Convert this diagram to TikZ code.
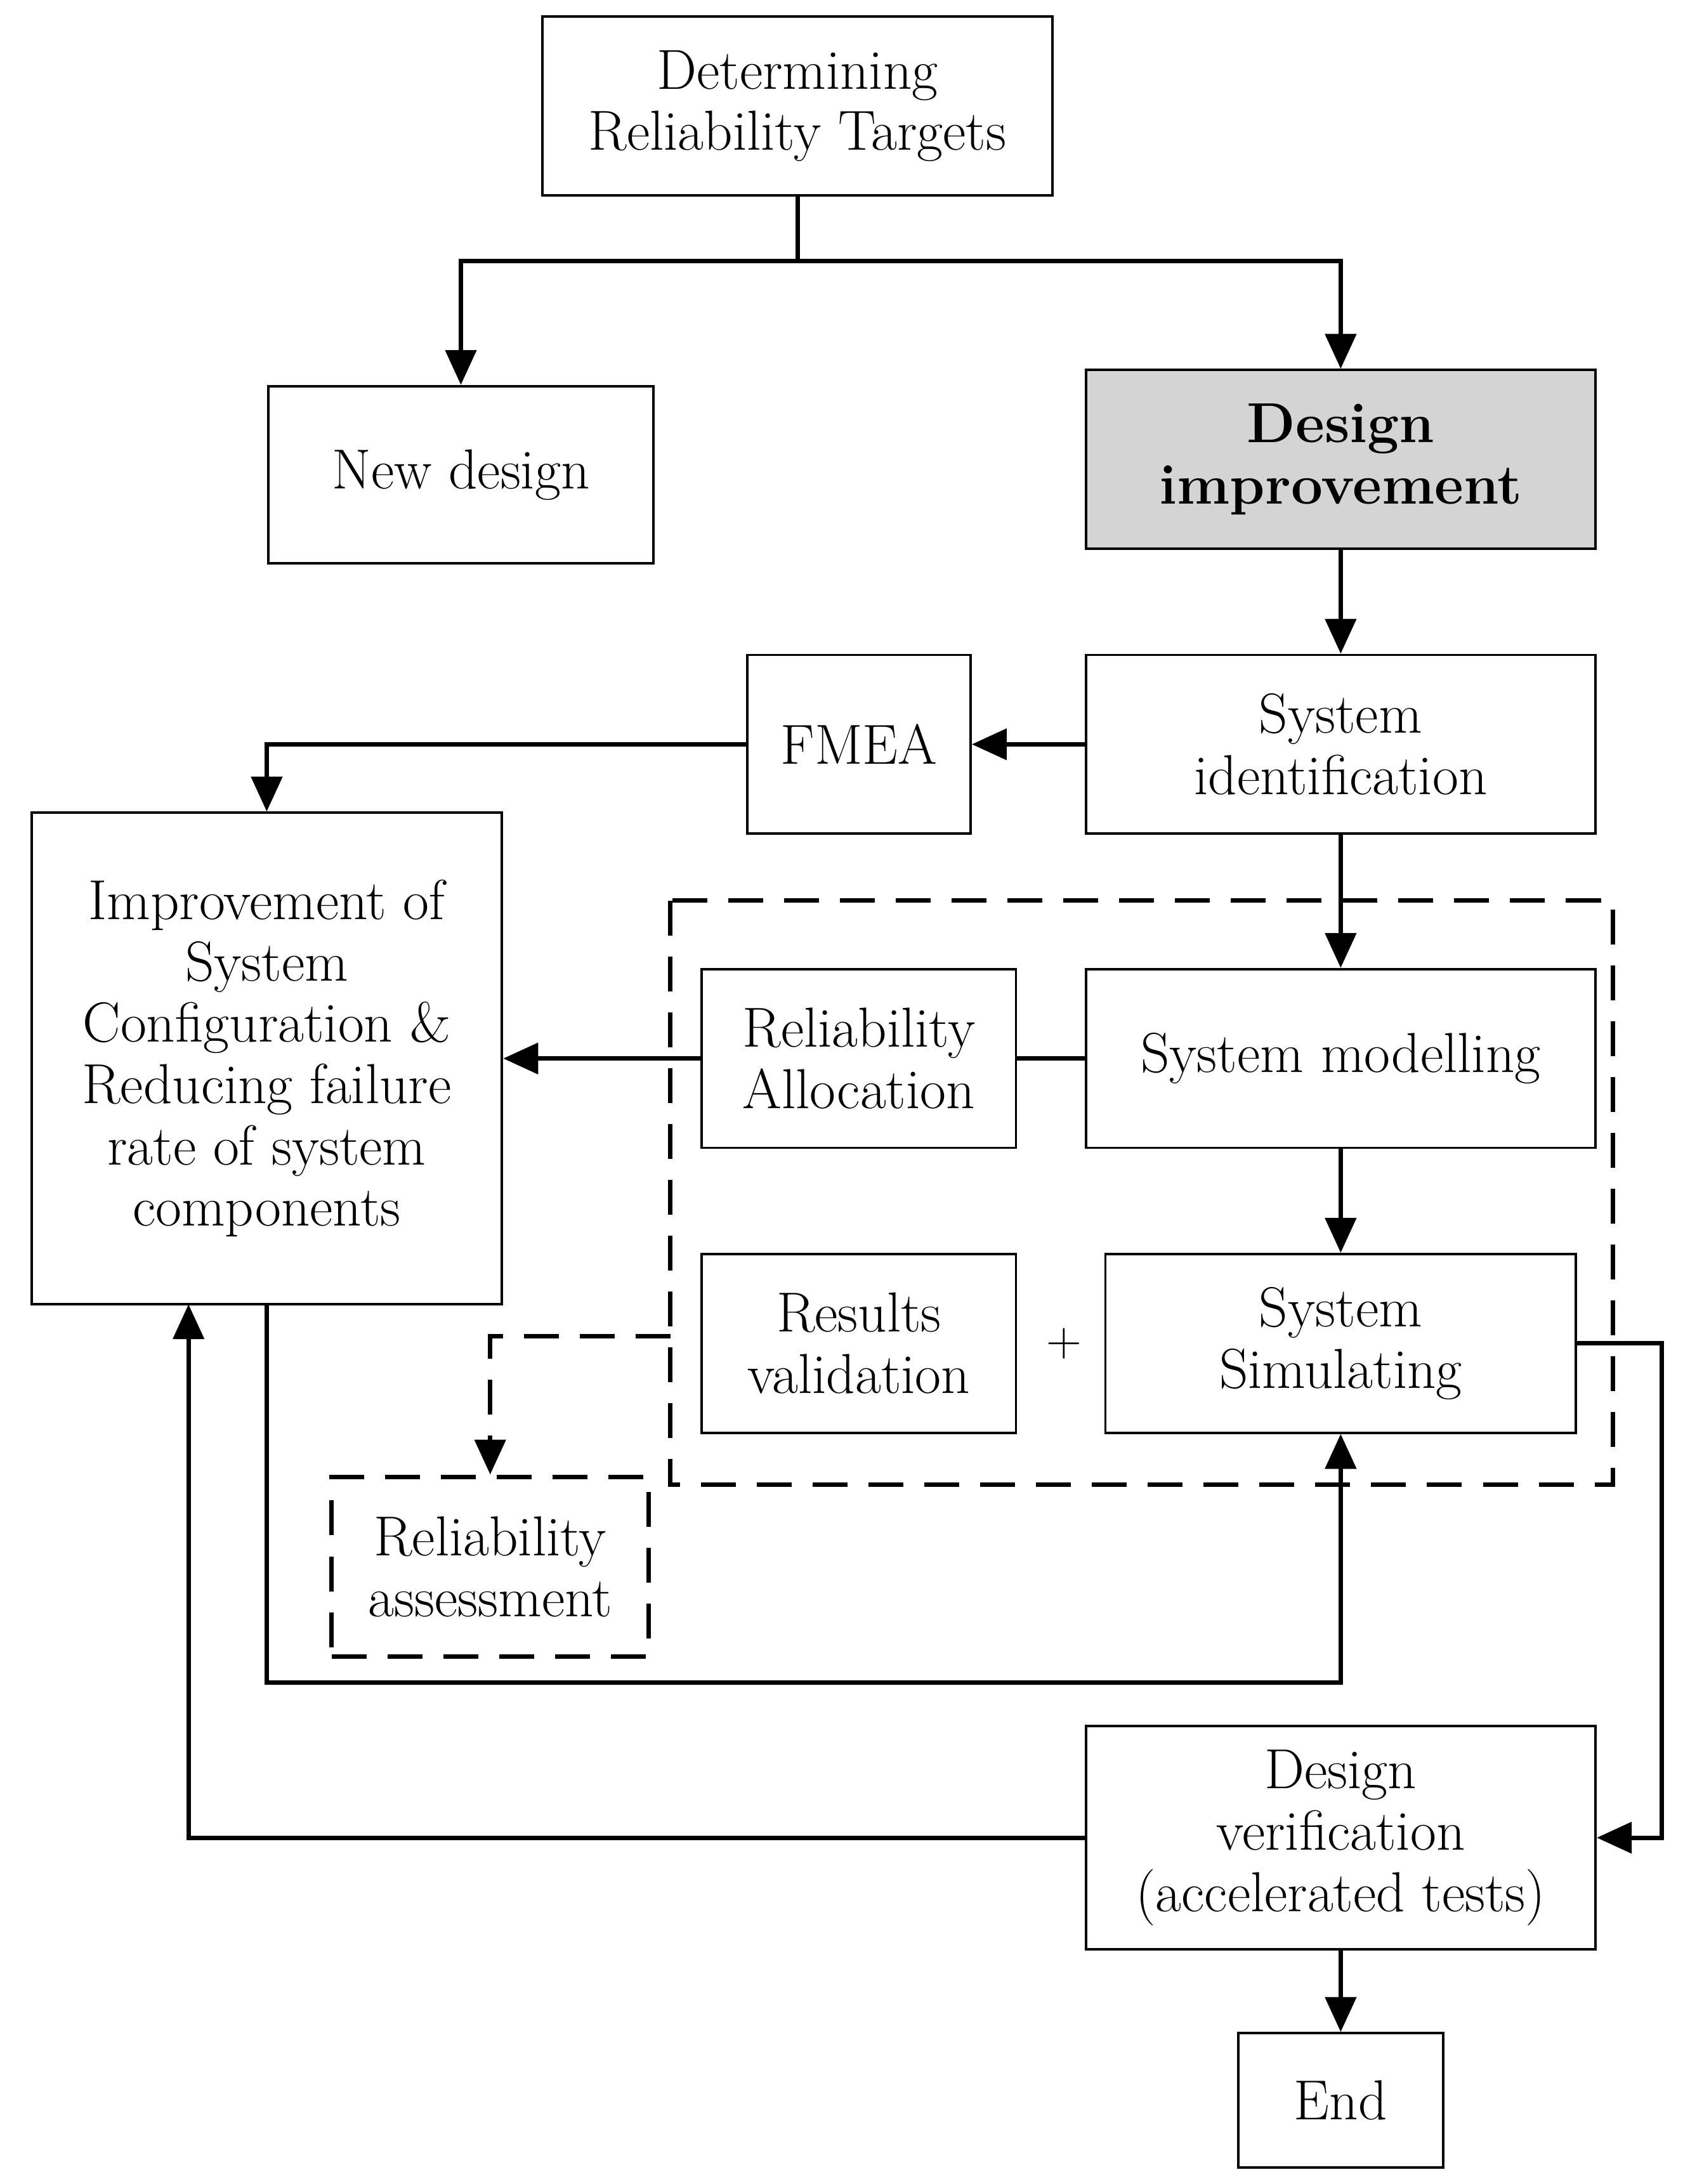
\documentclass[tikz,border=0pt]{standalone}
\usetikzlibrary{arrows.meta}
\begin{document}
\begin{tikzpicture}[x=0.02cm,y=-0.02cm,
  box/.style={draw,line width=1pt,align=center,inner sep=0pt,font=\fontsize{23}{25}\selectfont},
  ln/.style={line width=1.8pt},
  ar/.style={ln,-{Triangle[length=0.5cm,width=0.44cm]}},
  dsh/.style={line width=1.8pt,dash pattern=on 0.5cm off 0.3cm}]
\useasboundingbox (0,0) rectangle (1210,1564);
\node[box,minimum width=7.3cm,minimum height=2.56cm] (t) at (571,76) {Determining\\Reliability Targets};
\node[box,minimum width=5.52cm,minimum height=2.54cm] (nd) at (330,340) {New design};
\node[box,fill=black!17,minimum width=7.3cm,minimum height=2.56cm,font=\fontsize{23}{25}\selectfont\bfseries] (di) at (960,329) {Design\\improvement};
\node[box,minimum width=7.3cm,minimum height=2.56cm] (si) at (960,533) {System\\identification};
\node[box,minimum width=3.2cm,minimum height=2.56cm] (fm) at (615,533) {FMEA};
\node[box,minimum width=6.74cm,minimum height=7.04cm] (im) at (191,758) {Improvement of\\System\\Configuration \&\\Reducing failure\\rate of system\\components};
\draw[dsh] (480,645) rectangle (1155,1063);
\node[box,minimum width=4.5cm,minimum height=2.56cm] (ra) at (615,758) {Reliability\\Allocation};
\node[box,minimum width=7.3cm,minimum height=2.56cm] (sm) at (960,758) {System modelling};
\node[box,minimum width=4.5cm,minimum height=2.56cm] (rv) at (615,962) {Results\\validation};
\node[box,minimum width=6.74cm,minimum height=2.56cm] (ss) at (960,962) {System\\Simulating};
\node[font=\fontsize{20}{22}\selectfont] (plus) at (762,962) {+};
\node[box,dsh,minimum width=4.54cm,minimum height=2.58cm] (rs) at (351,1122) {Reliability\\assessment};
\node[box,minimum width=7.3cm,minimum height=3.2cm] (dv) at (960,1316) {Design\\verification\\(accelerated tests)};
\node[box,minimum width=2.94cm,minimum height=1.92cm] (en) at (960,1504) {End};
\coordinate (c1) at (330,187); \coordinate (c2) at (960,187);
\draw[ln] (t.south) -- (571,187);
\draw[ar] (571,187) -- (c1) -- (nd.north);
\draw[ar] (571,187) -- (c2) -- (di.north);
\draw[ar] (di) -- (si);
\draw[ar] (si) -- (fm);
\draw[ar] (fm.west) -- (191,533) -- (im.north);
\draw[ar] (si) -- (sm);
\draw[ln] (sm.west) -- (ra.east);
\draw[ar] (ra.west) -- (im.east);
\draw[ar] (sm) -- (ss);
\draw[ar] (ss.east) -- (1190,962) -- (1190,1316) -- (dv.east);
\draw[dsh,-{Triangle[length=0.5cm,width=0.44cm]}] (480,957) -- (351,957) -- (rs.north);
\draw[ar] (im.south) -- (191,1205) -- (960,1205) -- (ss.south);
\draw[ar] (dv.west) -- (135,1316) -- (135,934);
\draw[ar] (dv) -- (en);
\end{tikzpicture}
\end{document}
